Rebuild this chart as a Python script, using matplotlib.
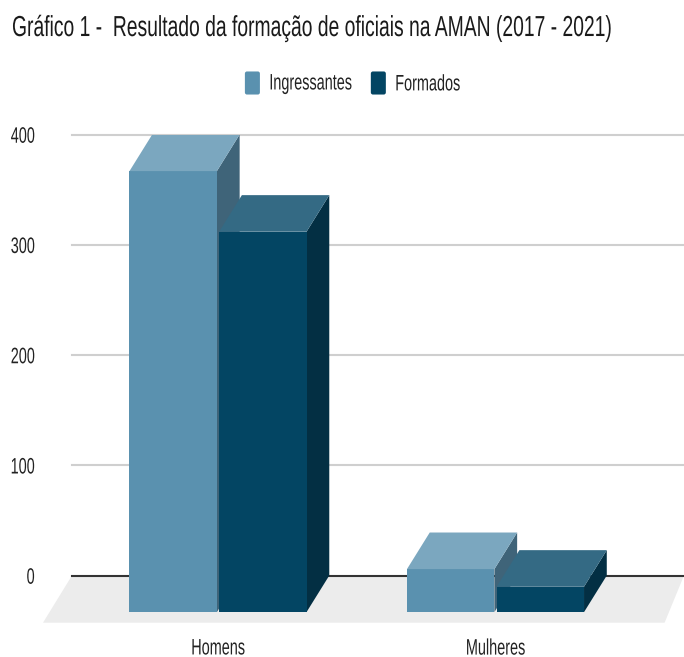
import matplotlib
matplotlib.use('Agg')
import matplotlib.pyplot as plt
from matplotlib.legend_handler import HandlerPatch
from matplotlib.patches import FancyBboxPatch, Patch, Polygon
from matplotlib.patheffects import AbstractPathEffect
from matplotlib.transforms import Affine2D

plt.rcParams['font.family'] = ['Liberation Sans', 'DejaVu Sans']

TITLE = 'Gráfico 1 -  Resultado da formação de oficiais na AMAN (2017 - 2021)'
categories = ['Homens', 'Mulheres']
ingressantes = [400, 39]
formados = [345, 23]
y_ticks = [0, 100, 200, 300, 400]

WIDTH, HEIGHT = 684, 657
BAR_W = 0.315
GAP = 0.008
DEPTH_X = 0.082   # category units
DEPTH_Y = 33.2    # value units
FLOOR_LOW = -42.8
LABEL_SIZE = 10.4

SERIES_STYLE = [
    ('Ingressantes', ingressantes, '#5a91af', '#7ba7bf', '#3f6479', -1),
    ('Formados', formados, '#034563', '#346a84', '#032f43', 1),
]


class TallText(AbstractPathEffect):
    """Stretch glyphs vertically around their own middle, for a condensed look."""

    def __init__(self, y_scale):
        super().__init__()
        self.y_scale = y_scale

    def draw_path(self, renderer, gc, tpath, affine, rgbFace=None):
        box = tpath.get_extents(affine)
        mid = (box.y0 + box.y1) / 2
        stretch = Affine2D().translate(0, -mid).scale(1, self.y_scale).translate(0, mid)
        renderer.draw_path(gc, tpath, affine + stretch, rgbFace)


def rounded_swatch(legend, orig_handle, xdescent, ydescent, width, height, fontsize):
    r = 1.5
    return FancyBboxPatch((-xdescent + r, -ydescent + r), width - 2 * r, height - 2 * r,
                          boxstyle=f'round,pad={r}', mutation_aspect=1)


def draw_bar_3d(ax, x, value, front, top, side):
    """Draw one bar as a front face plus top and side parallelograms."""
    base = -DEPTH_Y
    peak = value - DEPTH_Y
    ax.bar(x, value, BAR_W, bottom=base, align='edge', color=front, zorder=4)
    right = x + BAR_W
    ax.add_patch(Polygon([(x, peak), (right, peak), (right + DEPTH_X, value), (x + DEPTH_X, value)],
                         closed=True, facecolor=top, edgecolor='none', zorder=4))
    ax.add_patch(Polygon([(right, base), (right + DEPTH_X, 0), (right + DEPTH_X, value), (right, peak)],
                         closed=True, facecolor=side, edgecolor='none', zorder=3))


fig = plt.figure(figsize=(WIDTH / 100, HEIGHT / 100), dpi=100)
ax = fig.add_axes([72 / WIDTH, 1 - 622.7 / HEIGHT, (WIDTH - 72) / WIDTH, (622.7 - 134.5) / HEIGHT])

# 72px to 684px on the x axis, with the two groups 277.5px apart
ax.set_xlim(-(218 - 72) / 277.5, (684 - 218) / 277.5)
ax.set_ylim(FLOOR_LOW, 400)

# grey floor under the bars
left, right = ax.get_xlim()
floor_shift = (72 - 43) / 277.5
ax.add_patch(Polygon([(left, 0), (right, 0), (right - (684 - 664.6) / 277.5, FLOOR_LOW), (left - floor_shift, FLOOR_LOW)],
                     closed=True, facecolor='#ececec', edgecolor='none', clip_on=False, zorder=1))

for tick in y_ticks:
    ax.axhline(tick, color='#333333' if tick == 0 else '#cfcfcf', lw=1.5, zorder=2, clip_on=False)

for i in range(len(categories)):
    for name, values, front, top, side, direction in SERIES_STYLE:
        x = i - BAR_W - GAP / 2 if direction < 0 else i + GAP / 2
        draw_bar_3d(ax, x, values[i], front, top, side)

for spine in ax.spines.values():
    spine.set_visible(False)
ax.patch.set_visible(False)

ax.set_yticks(y_ticks)
ax.set_yticklabels([str(t) for t in y_ticks], fontsize=LABEL_SIZE, color='#222222')
ax.set_xticks(range(len(categories)))
ax.set_xticklabels(categories, fontsize=LABEL_SIZE, color='#222222')
ax.tick_params(axis='y', length=0, pad=27)
ax.tick_params(axis='x', length=0, pad=13)

title = fig.text(12 / WIDTH, 1 - 29 / HEIGHT, TITLE, fontsize=13.9, color='#1a1a1a', ha='left', va='center')
title.set_path_effects([TallText(1.5)])

handles = [Patch(facecolor=s[2], edgecolor='none', label=s[0]) for s in SERIES_STYLE]
legend = fig.legend(handles=handles, loc='center', bbox_to_anchor=(352.5 / WIDTH, 1 - 83 / HEIGHT), ncol=2,
                    frameon=False, fontsize=LABEL_SIZE, handlelength=1.04, handleheight=2.08,
                    handletextpad=0.65, columnspacing=1.3, labelcolor='#222222',
                    handler_map={Patch: HandlerPatch(patch_func=rounded_swatch)})

for text in ax.get_xticklabels() + ax.get_yticklabels() + legend.get_texts():
    text.set_path_effects([TallText(1.55)])

fig.savefig('out.png', dpi=100)
